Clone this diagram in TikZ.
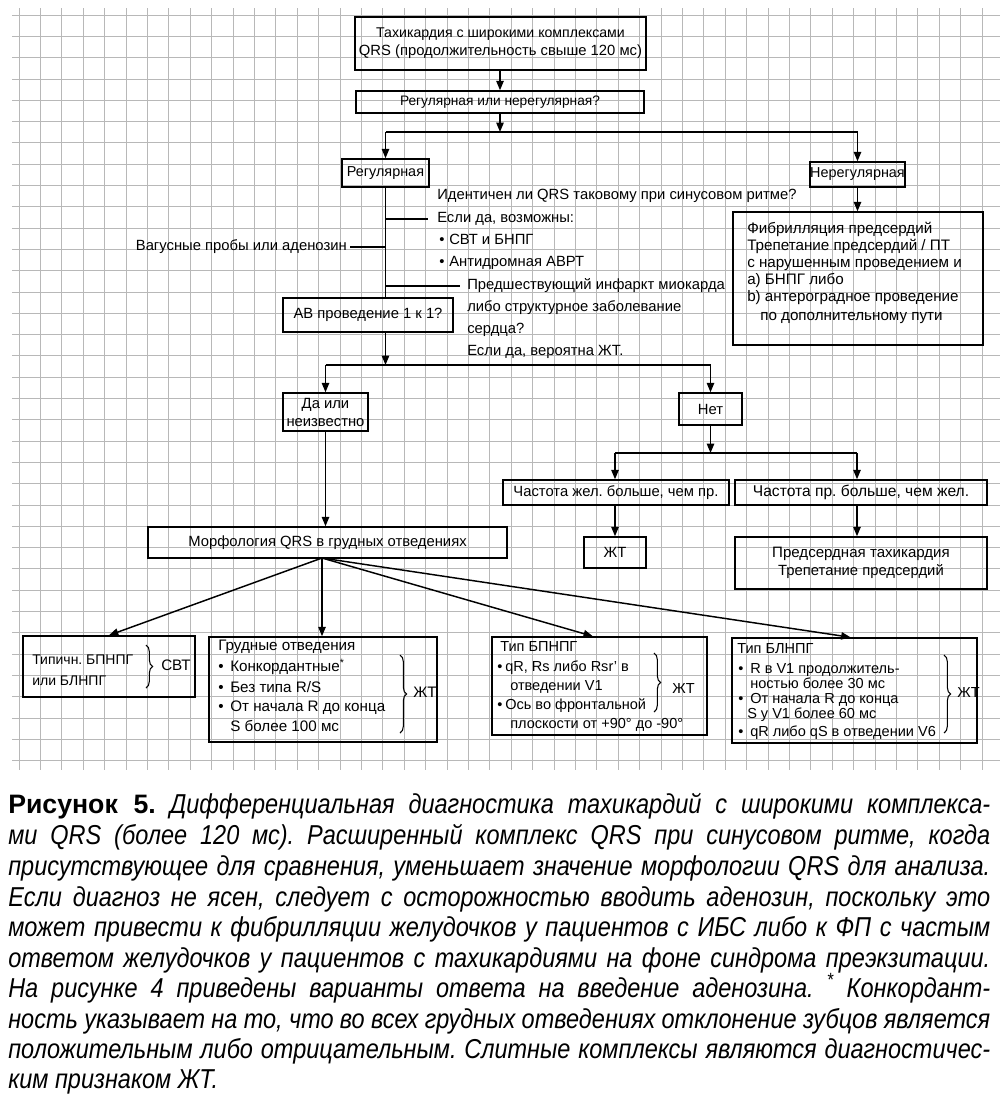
\documentclass[tikz,border=0pt]{standalone}
\usepackage{fontspec}
\setmainfont{Liberation Sans}
\newfontfamily\capfont[FakeStretch=0.86]{Liberation Sans}
\usetikzlibrary{arrows.meta,decorations.pathreplacing}
\frenchspacing
\newcommand\dg{\fontsize{11.1}{13.5}\selectfont}
\newcommand\dgs{\fontsize{10.9}{12.5}\selectfont}
\newcommand\dgb{\fontsize{11.4}{13.5}\selectfont}
\newcommand\capsz{\fontsize{20.5}{22.9}\selectfont}
\newcommand\bul[1]{\makebox[#1][l]{\textbullet}}
\newcommand\mybox[6]{%
  \pgfmathsetmacro\cx{(#2+#4)/2}%
  \pgfmathsetmacro\cy{(#3+#5)/2}%
  \pgfmathsetmacro\bw{(#4-#2)*0.75}%
  \pgfmathsetmacro\bh{(#5-#3)*0.75}%
  \node[box, minimum width=\bw pt, minimum height=\bh pt] (#1) at (\cx,\cy) {#6};}
\newcommand\tl[4]{\node[txt] (#1) at (#2,#3) {#4};}
\newcommand\tlb[4]{\node[txtb] (#1) at (#2,#3) {#4};}
\newcommand\tls[4]{\node[txts] (#1) at (#2,#3) {#4};}
\newcommand\capl[3]{\node[capt] (#1) at (8,#2) {\makebox[736.5pt][s]{#3}};}
\begin{document}
\begin{tikzpicture}[x=0.75pt,y=-0.75pt,
  grid/.style={draw=black!28, line width=0.5pt},
  box/.style={draw, line width=1.1pt, inner sep=0pt, align=center, font=\dg},
  txt/.style={anchor=west, inner sep=0pt, font=\dg, text height=7.9pt, text depth=2.3pt},
  txtb/.style={anchor=west, inner sep=0pt, font=\dgb, text height=8pt, text depth=2.3pt},
  txts/.style={anchor=west, inner sep=0pt, font=\dgs, text height=7.7pt, text depth=2.2pt},
  capt/.style={anchor=base west, inner sep=0pt, font=\capfont\itshape\capsz},
  ln/.style={line width=1.1pt},
  arr/.style={line width=1.1pt, -{Triangle[length=7pt,width=5.5pt]}},
  brc/.style={line width=0.8pt, decorate, decoration={brace, amplitude=5pt}}]
\useasboundingbox (0,0) rectangle (1000,1096);
\fill[white] (0,0) rectangle (1000,1096);
% grid
\foreach \k in {0,...,46} \draw[grid] ({19+21.4*\k},8) -- ({19+21.4*\k},770);
\foreach \k in {0,...,35} \draw[grid] (12,{15+21.3*\k}) -- (1000,{15+21.3*\k});

% top boxes
\mybox{b1}{355}{17}{646}{70}{\fontsize{10.6}{16.5}\selectfont Тахикардия с широкими комплексами\\QRS (продолжительность свыше 120 мс)}
\mybox{b2}{356}{91}{644}{113}{\fontsize{10.3}{12}\selectfont Регулярная или нерегулярная?}
\coordinate (j1) at (500,132);
\coordinate (jL) at (385.5,132);
\coordinate (jR) at (857.5,132);
\draw[arr] (b1.south -| j1) -- (b2.north -| j1);
\draw[arr] (b2.south -| j1) -- (j1);
\draw[ln] (jL) -- (jR);
\mybox{reg}{342}{159}{429}{187}{\fontsize{10.8}{12}\selectfont Регулярная}
\mybox{irr}{810}{162}{905}{187}{\fontsize{10.8}{12}\selectfont Нерегулярная}
\draw[arr] (jL) -- (reg.north);
\draw[arr] (jR) -- (irr.north);

% irregular branch
\mybox{fib}{733}{212}{983}{345}{}
\draw[arr] (irr.south) -- (irr.south |- fib.north);
\tlb{f1}{747}{230}{Фибрилляция предсердий}
\tlb{f2}{747}{247}{Трепетание предсердий / ПТ}
\tlb{f3}{747}{264}{с нарушенным проведением и}
\tlb{f4}{747}{281}{a) БНПГ либо}
\tlb{f5}{747}{298}{b) антероградное проведение}
\tlb{f6}{760}{317}{по дополнительному пути}

% regular branch
\mybox{av}{283}{298}{453}{332}{АВ проведение 1 к 1?}
\draw[ln] (reg.south) -- (reg.south |- av.north);
\coordinate (c1) at (385.5,219); \coordinate (e1) at (428,219);
\coordinate (c2) at (385.5,247); \coordinate (e2) at (350,247);
\coordinate (c3) at (385.5,286); \coordinate (e3) at (460,286);
\draw[ln] (c1) -- (e1);
\draw[ln] (c2) -- (e2);
\draw[ln] (c3) -- (e3);
\node[txt, anchor=east] (vag) at (347,247) {Вагусные пробы или аденозин};
\tl{r1}{437}{196}{Идентичен ли QRS таковому при синусовом ритме?}
\tl{r2}{437}{219}{Если да, возможны:}
\tl{r3}{439}{241}{\bul{7.5pt}СВТ и БНПГ}
\tl{r4}{439}{263}{\bul{7.5pt}Антидромная АВРТ}
\tl{r5}{467}{286}{Предшествующий инфаркт миокарда}
\tl{r6}{467}{308}{либо структурное заболевание}
\tl{r7}{467}{330}{сердца?}
\tl{r8}{467}{352}{Если да, вероятна ЖТ.}

\coordinate (j2) at (385.5,365);
\coordinate (j2L) at (325.5,365);
\coordinate (j2R) at (710.5,365);
\draw[arr] (reg.south |- av.south) -- (j2);
\draw[ln] (j2L) -- (j2R);
\mybox{da}{283}{393}{368}{431}{\fontsize{11.1}{14.5}\selectfont Да или\\неизвестно}
\mybox{net}{679}{393}{742}{425}{Нет}
\draw[arr] (j2L) -- (da.north);
\draw[arr] (j2R) -- (net.north);

% "no" branch
\coordinate (j3) at (710.5,453);
\coordinate (j3L) at (615,453);
\coordinate (j3R) at (857,453);
\draw[arr] (net.south) -- (j3);
\draw[ln] (j3L) -- (j3R);
\mybox{vz}{503}{480}{729}{505}{Частота жел. больше, чем пр.}
\mybox{ap}{735}{480}{987}{505}{\fontsize{11.7}{13.5}\selectfont Частота пр. больше, чем жел.}
\draw[arr] (j3L) -- (j3L |- vz.north);
\draw[arr] (j3R) -- (j3R |- ap.north);
\mybox{zt}{584}{537}{646}{568}{ЖТ}
\mybox{pt}{735}{537}{987}{589}{\fontsize{11.3}{16}\selectfont Предсердная тахикардия\\Трепетание предсердий}
\draw[arr] (j3L |- vz.south) -- (j3L |- zt.north);
\draw[arr] (j3R |- ap.south) -- (j3R |- pt.north);

% morphology
\mybox{mo}{148}{527}{507}{558}{Морфология QRS в грудных отведениях}
\draw[arr] (da.south) -- (da.south |- mo.north);
\coordinate (f0) at (322,558);
\mybox{typ}{23}{636}{195}{697}{}
\mybox{gr}{209}{637}{437}{742}{}
\mybox{bp}{492}{637}{707}{735}{}
\mybox{bl}{732}{638}{977}{743}{}
\draw[arr] (f0) -- (typ.north);
\draw[arr] (f0) -- (f0 |- gr.north);
\draw[arr] (f0) -- ([xshift=-5pt]bp.north);
\draw[arr] (f0) -- ([xshift=-3pt]bl.north);

% typical box
\tls{ty1}{32}{661}{\fontsize{10.5}{12}\selectfont Типичн. БПНПГ}
\tls{ty2}{32}{682}{\fontsize{10.5}{12}\selectfont или БЛНПГ}
\draw[brc] (146,645) -- (146,688);
\tlb{ty3}{161}{667}{СВТ}

% chest leads box
\tlb{g1}{218}{647}{Грудные отведения}
\tlb{g2}{218}{668}{\bul{9pt}Конкордантные\textsuperscript{*}}
\tlb{g3}{218}{689}{\bul{9pt}Без типа R/S}
\tlb{g4}{218}{708}{\bul{9pt}От начала R до конца}
\tlb{g5}{230}{728}{S более 100 мс}
\draw[brc] (400,655) -- (400,733);
\tlb{g6}{413}{694}{ЖТ}

% RBBB type box
\tls{p1}{500}{648}{Тип БПНПГ}
\tls{p2}{497}{668}{\bul{6pt}qR, Rs либо Rsr' в}
\tls{p3}{510}{687}{отведении V1}
\tls{p4}{497}{706}{\bul{6pt}Ось во фронтальной}
\tls{p5}{510}{725}{плоскости от +90° до -90°}
\draw[brc] (654,653) -- (654,712);
\tls{p6}{672}{690}{ЖТ}

% LBBB type box
\tls{l1}{737}{650}{Тип БЛНПГ}
\tls{l2}{738}{670}{\bul{9pt}R в V1 продолжитель-}
\tls{l3}{750}{685}{ностью более 30 мс}
\tls{l4}{738}{700}{\bul{9pt}От начала R до конца}
\tls{l5}{747}{715}{S у V1 более 60 мс}
\tls{l6}{738}{733}{\bul{9pt}qR либо qS в отведении V6}
\draw[brc] (944,655) -- (944,733);
\tls{l7}{957}{694}{ЖТ}

% caption
\capl{k1}{813}{{\normalfont\bfseries\fontsize{20}{22.9}\selectfont Рисунок 5.} Дифференциальная диагностика тахикардий с широкими комплекса-}
\capl{k2}{844}{ми QRS (более 120 мс). Расширенный комплекс QRS при синусовом ритме, когда}
\capl{k3}{875}{присутствующее для сравнения, уменьшает значение морфологии QRS для анализа.}
\capl{k4}{906}{Если диагноз не ясен, следует с осторожностью вводить аденозин, поскольку это}
\capl{k5}{936}{может привести к фибрилляции желудочков у пациентов с ИБС либо к ФП с частым}
\capl{k6}{967}{ответом желудочков у пациентов с тахикардиями на фоне синдрома преэкзитации.}
\capl{k7}{997}{На рисунке 4 приведены варианты ответа на введение аденозина. \textsuperscript{*} Конкордант-}
\capl{k8}{1028}{ность указывает на то, что во всех грудных отведениях отклонение зубцов является}
\capl{k9}{1058}{положительным либо отрицательным. Слитные комплексы являются диагностичес-}
\node[capt] (k10) at (8,1088) {ким признаком ЖТ.};
\end{tikzpicture}
\end{document}
